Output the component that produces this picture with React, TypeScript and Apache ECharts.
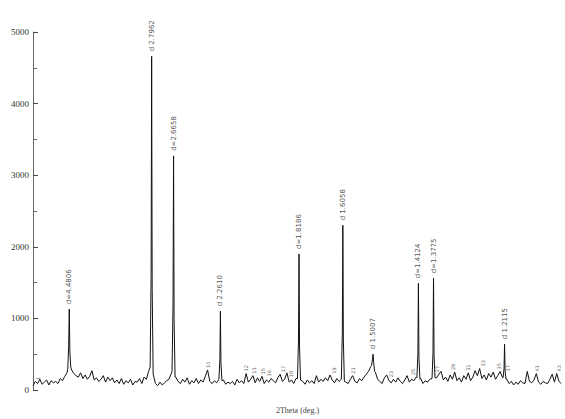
import React, { useEffect, useRef } from "react";
import * as echarts from "echarts";

// Baseline counts, sampled every 0.3 deg from 15.0 deg
const baseStart = 15.0;
const baseStep = 0.3;
const baseline: number[] = [
  60, 120, 90, 150, 80, 110, 140, 70, 130, 100,
  120, 90, 160, 130, 190, 240, 300, 280, 230, 200,
  180, 240, 160, 210, 150, 190, 270, 140, 170, 120,
  150, 200, 110, 180, 130, 170, 100, 140, 90, 160,
  80, 130, 100, 150, 70, 120, 110, 160, 90, 180,
  150, 260, 0, 0, 90, 60, 110, 70, 100, 130,
  150, 230, 0, 180, 120, 90, 150, 110, 170, 80,
  130, 100, 160, 90, 140, 110, 190, 280, 120, 90,
  130, 100, 0, 0, 140, 80, 110, 90, 120, 70,
  150, 100, 130, 90, 230, 110, 150, 200, 100, 170,
  120, 190, 90, 140, 110, 160, 130, 100, 170, 220,
  120, 150, 240, 110, 140, 90, 160, 0, 0, 120,
  80, 140, 100, 130, 90, 200, 110, 150, 120, 170,
  130, 210, 140, 100, 160, 120, 0, 0, 110, 90,
  150, 200, 120, 100, 160, 130, 180, 220, 260, 330,
  0, 250, 150, 120, 90, 170, 210, 130, 100, 150,
  110, 170, 120, 90, 140, 200, 110, 150, 130, 180,
  0, 160, 90, 130, 110, 150, 0, 0, 170, 220,
  260, 140, 180, 120, 210, 150, 250, 130, 170, 110,
  200, 150, 240, 130, 180, 270, 200, 300, 160, 210,
  140, 230, 180, 250, 150, 200, 260, 180, 0, 150,
  90, 120, 70, 110, 80, 130, 100, 90, 260, 120,
  100, 140, 230, 110, 80, 120, 100, 90, 150, 220,
  110, 230, 120, 90,
];

// Main reflections
const peakCenters = [19.8, 30.7, 33.6, 39.8, 50.2, 56.0, 60.0, 66.0, 68.0, 77.4];
const peakHeights = [1130, 4660, 3270, 1100, 1900, 2300, 500, 1490, 1560, 640];
const peakLabels = [
  "d=4.4806", "d 2.7962", "d=2.6658", "d 2.2610", "d=1.8186",
  "d 1.6058", "d 1.5007", "d=1.4124", "d=1.3775", "d 1.2115",
];
// Profile points of each reflection [2theta, counts]
const peakProfiles: number[][][] = [
  [[19.6, 290], [19.72, 620], [19.8, 1130], [19.88, 520], [20.0, 320]],
  [[30.5, 320], [30.63, 1600], [30.7, 4660], [30.77, 1400], [30.9, 220]],
  [[33.4, 260], [33.53, 1200], [33.6, 3270], [33.67, 1000], [33.8, 180]],
  [[39.6, 150], [39.73, 420], [39.8, 1100], [39.87, 380], [40.0, 130]],
  [[50.0, 160], [50.13, 700], [50.2, 1900], [50.27, 600], [50.4, 140]],
  [[55.8, 150], [55.93, 800], [56.0, 2300], [56.07, 700], [56.2, 120]],
  [[59.8, 340], [59.92, 430], [60.0, 500], [60.08, 380], [60.2, 260]],
  [[65.8, 170], [65.93, 500], [66.0, 1490], [66.07, 450], [66.2, 150]],
  [[67.8, 160], [67.93, 520], [68.0, 1560], [68.07, 480], [68.2, 170]],
  [[77.2, 170], [77.33, 300], [77.4, 640], [77.47, 260], [77.6, 150]],
];

// Minor reflection markers
const minorPos = [15.7, 38.1, 43.2, 44.2, 45.4, 46.2, 48.1, 49.1, 54.8, 57.4, 62.4, 65.3, 68.4, 70.6, 72.6, 74.6, 76.6, 77.9, 81.7, 84.6];
const minorVal = [110, 280, 230, 200, 190, 160, 220, 150, 200, 200, 150, 180, 220, 250, 240, 300, 260, 230, 230, 230];
const minorLabels = ["1", "10", "12", "13", "15", "16", "17", "18", "19", "21", "23", "25", "27", "29", "31", "33", "35", "37", "41", "43"];

const yTicks = [0, 1000, 2000, 3000, 4000, 5000];

export default function App() {
  const ref = useRef<HTMLDivElement>(null);
  useEffect(() => {
    if (!ref.current) return;
    const chart = echarts.init(ref.current, null, { renderer: "svg" });

    const pts: number[][] = [];
    baseline.forEach((v, i) => {
      const x = +(baseStart + i * baseStep).toFixed(2);
      const near = peakCenters.some((c) => Math.abs(c - x) < 0.25);
      if (!near) pts.push([x, v]);
    });
    peakProfiles.forEach((p) => p.forEach((q) => pts.push(q)));
    pts.sort((a, b) => a[0] - b[0]);

    chart.setOption({
      animation: false,
      backgroundColor: "#ffffff",
      grid: { left: 33, right: 3, top: 32, bottom: 28 },
      xAxis: {
        type: "value",
        min: 15,
        max: 85,
        axisLine: { show: false },
        axisTick: { show: false },
        axisLabel: { show: false },
        splitLine: { show: false },
        name: "2Theta (deg.)",
        nameLocation: "middle",
        nameGap: 16,
        nameTextStyle: { fontFamily: "Liberation Serif", fontSize: 8, color: "#444" },
      },
      yAxis: {
        type: "value",
        min: 0,
        max: 5000,
        interval: 1000,
        axisLine: { show: true, lineStyle: { color: "#666", width: 1 } },
        axisTick: { show: true, inside: true, length: 5, lineStyle: { color: "#444" } },
        minorTick: { show: true, splitNumber: 2, length: 4, lineStyle: { color: "#666" } },
        axisLabel: {
          fontFamily: "Liberation Serif",
          fontSize: 9,
          color: "#333",
          margin: 4,
          formatter: (v: number) => (yTicks.includes(v) ? String(v) : ""),
        },
        splitLine: { show: false },
      },
      series: [
        {
          type: "line",
          data: pts,
          showSymbol: false,
          symbol: "none",
          lineStyle: { color: "#111", width: 1 },
          z: 2,
        },
        {
          type: "scatter",
          data: peakCenters.map((c, i) => [c, peakHeights[i]]),
          symbolSize: 0,
          label: {
            show: true,
            position: "top",
            rotate: 90,
            align: "left",
            verticalAlign: "middle",
            distance: 5,
            fontFamily: "DejaVu Sans",
            fontSize: 7,
            color: "#222",
            formatter: (p: any) => peakLabels[p.dataIndex],
          },
          z: 3,
        },
        {
          type: "scatter",
          data: minorPos.map((c, i) => [c, minorVal[i]]),
          symbolSize: 0,
          label: {
            show: true,
            position: "top",
            rotate: 90,
            align: "left",
            verticalAlign: "middle",
            distance: 2,
            fontFamily: "DejaVu Sans",
            fontSize: 5,
            color: "#333",
            formatter: (p: any) => minorLabels[p.dataIndex],
          },
          z: 3,
        },
      ],
    });
    return () => chart.dispose();
  }, []);
  return (
    <div
      ref={ref}
      style={{ position: "absolute", left: 0, top: 0, width: 565, height: 419 }}
    />
  );
}
